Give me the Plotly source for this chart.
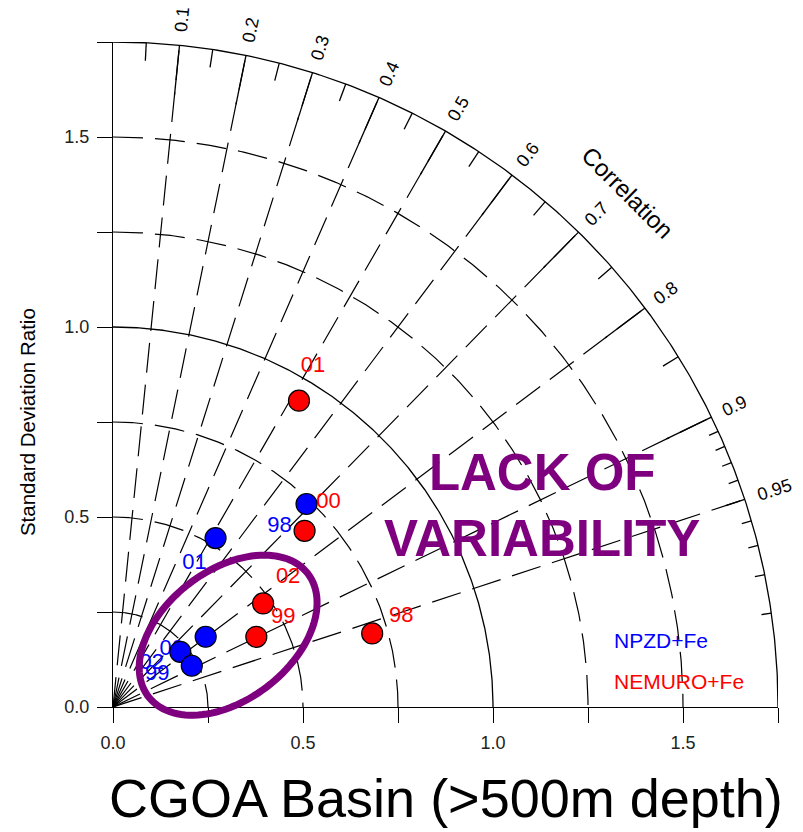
import numpy as np
import plotly.graph_objects as go

# Normalised standard deviation and correlation per year, CGOA basin (>500 m)
nemuro_years = ["98", "99", "00", "01", "02"]
nemuro_sd = [0.709, 0.420, 0.685, 0.943, 0.480]
nemuro_corr = [0.962, 0.898, 0.736, 0.519, 0.823]

npzd_years = ["98", "99", "00", "01", "02"]
npzd_sd = [0.738, 0.229, 0.306, 0.520, 0.234]
npzd_corr = [0.690, 0.773, 0.797, 0.519, 0.886]

# label offsets in screen pixels (right, up) for each year's text
nemuro_label_shift = [(29, 17), (27, 19), (24, 28), (14, 34), (25, 26)]
npzd_label_shift = [(-27, -22), (-23, -23), (-34, -13), (-21, -25), (-40, 2)]

corr_major = [0.1, 0.2, 0.3, 0.4, 0.5, 0.6, 0.7, 0.8, 0.9, 0.95]
corr_major_text = ["0.1", "0.2", "0.3", "0.4", "0.5", "0.6", "0.7", "0.8", "0.9", "0.95"]
corr_minor = [0.05, 0.15, 0.25, 0.35, 0.45, 0.55, 0.65, 0.75, 0.85]
corr_fine = [0.91, 0.92, 0.93, 0.94, 0.96, 0.97, 0.98, 0.99]

sd_solid_arcs = [1.0]
sd_dashed_arcs = [0.25, 0.5, 0.75, 1.25, 1.5]
axis_ticks = [0, 0.25, 0.5, 0.75, 1.0, 1.25, 1.5, 1.75]
axis_tick_text = ["0.0", "", "0.5", "", "1.0", "", "1.5", ""]

RMAX = 1.75
W, H = 803, 832
M_L, M_R, M_T, M_B = 113, 25, 42, 125
PX = (W - M_L - M_R) / RMAX  # pixels per unit

FONT = "Liberation Sans, Arial, sans-serif"
DASH = "30px,12px"
PURPLE = "#7f007f"

fig = go.Figure()


def add_line(x, y, dash="solid", width=1.2):
    fig.add_trace(go.Scatter(x=x, y=y, mode="lines", hoverinfo="skip",
                             line=dict(color="black", width=width, dash=dash)))


def to_paper(v):
    # both axes span 0..RMAX over the whole plot area
    return np.asarray(v, dtype=float) / RMAX


# standard deviation arcs
th = np.linspace(np.pi / 2, 0, 300)
for r in sd_dashed_arcs:
    add_line(r * np.cos(th), r * np.sin(th), dash=DASH)
for r in sd_solid_arcs + [RMAX]:
    add_line(r * np.cos(th), r * np.sin(th), width=1.3)

# correlation rays
for c in corr_major:
    s = np.sqrt(1 - c * c)
    add_line([0, RMAX * c], [0, RMAX * s], dash=DASH)


# correlation ticks on the outer arc
def add_ticks(vals, length, width=1.3):
    xs, ys = [], []
    for c in vals:
        s = np.sqrt(1 - c * c)
        r0 = RMAX - length
        xs += [r0 * c, RMAX * c, None]
        ys += [r0 * s, RMAX * s, None]
    add_line(xs, ys, width=width)


add_ticks(corr_major[:-1], 50 / PX)
add_ticks([0.95], 20 / PX)
add_ticks(corr_minor, 18 / PX)
add_ticks(corr_fine, 10 / PX)


# points and year labels
def polar_xy(sd, corr):
    sd = np.asarray(sd)
    corr = np.asarray(corr)
    return sd * corr, sd * np.sqrt(1 - corr ** 2)


nx, ny = polar_xy(nemuro_sd, nemuro_corr)
bx, by = polar_xy(npzd_sd, npzd_corr)

fig.add_trace(go.Scatter(x=nx, y=ny, mode="markers", hoverinfo="skip",
                         marker=dict(color="red", size=21, line=dict(color="black", width=1.2))))
fig.add_trace(go.Scatter(
    x=nx + np.array([d[0] for d in nemuro_label_shift]) / PX,
    y=ny + np.array([d[1] for d in nemuro_label_shift]) / PX,
    mode="text", text=nemuro_years, hoverinfo="skip",
    textfont=dict(color="red", size=22, family=FONT)))
fig.add_trace(go.Scatter(
    x=bx + np.array([d[0] for d in npzd_label_shift]) / PX,
    y=by + np.array([d[1] for d in npzd_label_shift]) / PX,
    mode="text", text=npzd_years, hoverinfo="skip",
    textfont=dict(color="blue", size=22, family=FONT)))
fig.add_trace(go.Scatter(x=bx, y=by, mode="markers", hoverinfo="skip",
                         marker=dict(color="blue", size=21, line=dict(color="black", width=1.2))))

# ellipse around the low-variability cluster (paper coords so it is not clipped)
ec_x, ec_y, ea, eb, ephi = 0.303, 0.189, 0.265, 0.170, np.deg2rad(37.7)
t = np.linspace(0, 2 * np.pi, 120)
ex = to_paper(ec_x + ea * np.cos(t) * np.cos(ephi) - eb * np.sin(t) * np.sin(ephi))
ey = to_paper(ec_y + ea * np.cos(t) * np.sin(ephi) + eb * np.sin(t) * np.cos(ephi))
path = "M " + " L ".join(f"{a:.5f},{b:.5f}" for a, b in zip(ex, ey)) + " Z"
fig.add_shape(type="path", path=path, xref="paper", yref="paper",
              line=dict(color=PURPLE, width=7), layer="above")

annotations = []
# correlation labels
for c, txt in zip(corr_major, corr_major_text):
    ang = np.degrees(np.arccos(c))
    r = RMAX + (9 + 5.5 * len(txt)) / PX
    annotations.append(dict(x=float(to_paper(r * c)), y=float(to_paper(r * np.sqrt(1 - c * c))),
                            xref="paper", yref="paper", text=txt, showarrow=False,
                            textangle=-ang, font=dict(size=18, family=FONT, color="black"),
                            xanchor="center", yanchor="middle"))


def ann(x, y, text, size, color="black", angle=0, xanchor="center"):
    return dict(x=float(to_paper(x)), y=float(to_paper(y)), xref="paper", yref="paper",
                text=text, showarrow=False, textangle=angle, xanchor=xanchor,
                yanchor="middle", font=dict(size=size, family=FONT, color=color))


annotations += [
    ann(1.354, 1.354, "Correlation", 24, angle=45),
    ann(-0.226, 0.75, "Standard Deviation Ratio", 20.5, angle=-90),
    ann(1.312, 0.174, "NPZD+Fe", 21, color="blue", xanchor="left"),
    ann(1.312, 0.068, "NEMURO+Fe", 21, color="red", xanchor="left"),
    ann(1.129, 0.529, "<b>LACK OF<br>VARIABILITY</b>", 51, color=PURPLE),
    ann(0.875, -0.239, "CGOA Basin (>500m depth)", 54),
]

axis_common = dict(range=[0, RMAX], showgrid=False, zeroline=False, showline=True,
                   linecolor="black", linewidth=1.3, ticks="outside", ticklen=15,
                   tickwidth=1.2, tickcolor="black", tickvals=axis_ticks,
                   ticktext=axis_tick_text, tickfont=dict(size=18, family=FONT, color="#222"),
                   mirror=False, fixedrange=True)

fig.update_layout(
    width=W, height=H, margin=dict(l=M_L, r=M_R, t=M_T, b=M_B),
    paper_bgcolor="white", plot_bgcolor="white", showlegend=False,
    xaxis=dict(**axis_common, ticklabelstandoff=4),
    yaxis=dict(**axis_common, ticklabelstandoff=4),
    annotations=annotations,
)

fig.write_html("out.html")
